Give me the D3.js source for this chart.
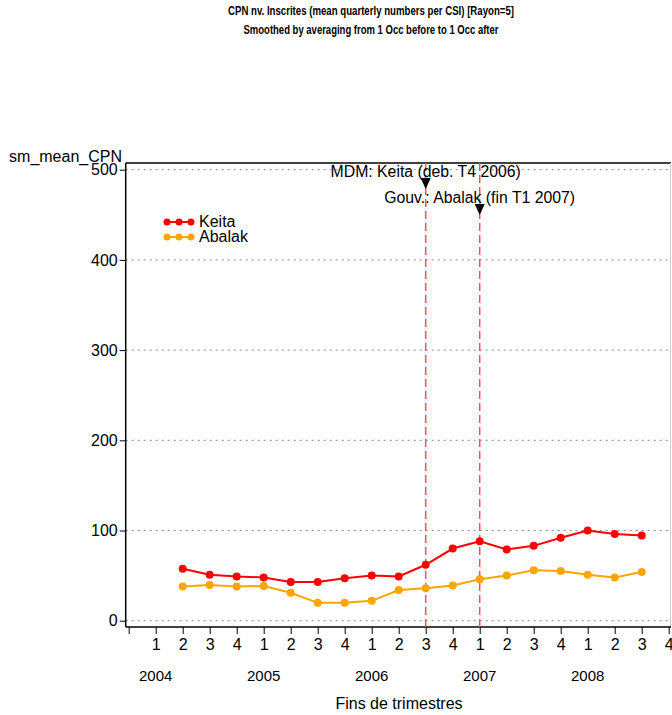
<!DOCTYPE html>
<html><head><meta charset="utf-8">
<script src="https://cdn.jsdelivr.net/npm/d3@7/dist/d3.min.js"></script>
<style>body{margin:0;background:#fff}svg{display:block}</style>
</head><body>
<svg id="c" width="672" height="715"></svg>
<script>
const quarterLabels = ["","1","2","3","4","1","2","3","4","1","2","3","4","1","2","3","4","1","2","3","4"];
const years = [{label:"2004",idx:1},{label:"2005",idx:5},{label:"2006",idx:9},{label:"2007",idx:13},{label:"2008",idx:17}];
const pointIdx = [2,3,4,5,6,7,8,9,10,11,12,13,14,15,16,17,18,19];
const keita  = [57.5,51,49,48,43,43,47,50,49,62,80,88,79,83,92,100,96,94.5];
const abalak = [38,39.5,38,38.5,31,19.8,20,22,34,36,39,46,50,56,55,51,48,54];
const yTicks = [0,100,200,300,400,500];
const events = [{idx:11,label:"MDM: Keita (deb. T4 2006)",row:0},{idx:13,label:"Gouv.: Abalak (fin T1 2007)",row:1}];
const titles = ["CPN nv. Inscrites (mean quarterly numbers per CSI) [Rayon=5]","Smoothed by averaging from 1 Occ before to 1 Occ after"];

const svg = d3.select("#c");
const x = d3.scaleLinear().domain([0,20]).range([128.7,668.7]);
const y = d3.scaleLinear().domain([0,500]).range([620.7,169.7]);
const pL=125.7, pR=671, pT=163, pB=627;
const font = "Liberation Sans, Arial, sans-serif";

// titles
const tw=[286,255];
titles.forEach((t,i)=>{
  svg.append("text").attr("x",371).attr("y",15+i*19).attr("text-anchor","middle")
    .attr("font-family","Liberation Sans Narrow, Liberation Sans, sans-serif").attr("font-weight","bold")
    .attr("font-size",12).attr("textLength",tw[i]).attr("lengthAdjust","spacingAndGlyphs").text(t);
});

// gridlines
svg.append("g").selectAll("line").data(yTicks).join("line")
  .attr("x1",pL).attr("x2",pR).attr("y1",d=>y(d)).attr("y2",d=>y(d))
  .attr("stroke","#888").attr("stroke-width",1).attr("stroke-dasharray","2,4");

// frame
svg.append("line").attr("x1",pL).attr("x2",pR).attr("y1",pT).attr("y2",pT).attr("stroke","#000").attr("stroke-width",1.5);
svg.append("line").attr("x1",pR-0.5).attr("x2",pR-0.5).attr("y1",pT).attr("y2",pB).attr("stroke","#ccc").attr("stroke-width",1);

// y axis
const ya = svg.append("g").attr("transform",`translate(${pL},0)`)
  .call(d3.axisLeft(y).tickValues(yTicks).tickSize(6).tickPadding(2));
ya.select(".domain").attr("d",`M0,${pT}V${pB}`).attr("stroke-width",1.5);
ya.selectAll("text").attr("font-family",font).attr("font-size",16).attr("fill","#000");
svg.append("text").attr("x",122).attr("y",162).attr("text-anchor","end").attr("font-family",font).attr("font-size",16).text("sm_mean_CPN");

// x axis
const xa = svg.append("g").attr("transform",`translate(0,${pB})`)
  .call(d3.axisBottom(x).tickValues(d3.range(0,21)).tickFormat(i=>quarterLabels[i]).tickSize(7).tickPadding(5));
xa.select(".domain").attr("d",`M${pL},0H${pR}`).attr("stroke-width",1.5);
xa.selectAll("text").attr("font-family",font).attr("font-size",16).attr("fill","#000");
svg.append("g").selectAll("text").data(years).join("text")
  .attr("x",d=>x(d.idx)).attr("y",681).attr("text-anchor","middle")
  .attr("font-family",font).attr("font-size",15).text(d=>d.label);
svg.append("text").attr("x",399).attr("y",709).attr("text-anchor","middle").attr("font-family",font).attr("font-size",16).text("Fins de trimestres");

// event lines
svg.append("g").selectAll("line").data(events).join("line")
  .attr("x1",d=>x(d.idx)).attr("x2",d=>x(d.idx)).attr("y1",pT).attr("y2",pB)
  .attr("stroke","#ff5050").attr("stroke-width",1.5).attr("stroke-dasharray","8,4");
events.forEach(e=>{
  const cx=x(e.idx), ty=177+e.row*26;
  svg.append("text").attr("x",cx).attr("y",ty).attr("text-anchor","middle").attr("font-family",font).attr("font-size",15.8).text(e.label);
  svg.append("path").attr("d",`M${cx-5},${ty+1}L${cx+5},${ty+1}L${cx},${ty+12}Z`).attr("fill","#000");
});

// series
const series=[{name:"Keita",vals:keita,color:"#ff0000"},{name:"Abalak",vals:abalak,color:"#ffa500"}];
const line=d3.line().x(d=>x(d[0])).y(d=>y(d[1]));
series.forEach(s=>{
  const pts=pointIdx.map((p,i)=>[p,s.vals[i]]);
  svg.append("path").attr("d",line(pts)).attr("fill","none").attr("stroke",s.color).attr("stroke-width",2);
  svg.append("g").selectAll("circle").data(pts).join("circle")
    .attr("cx",d=>x(d[0])).attr("cy",d=>y(d[1])).attr("r",4).attr("fill",s.color);
});

// legend
series.forEach((s,i)=>{
  const ly=222+i*15;
  svg.append("line").attr("x1",166).attr("x2",192).attr("y1",ly).attr("y2",ly).attr("stroke",s.color).attr("stroke-width",2);
  [167,179,191].forEach(cx=>svg.append("circle").attr("cx",cx).attr("cy",ly).attr("r",3.5).attr("fill",s.color));
  svg.append("text").attr("x",199).attr("y",ly+5).attr("font-family",font).attr("font-size",16).text(s.name);
});
</script>
</body></html>
